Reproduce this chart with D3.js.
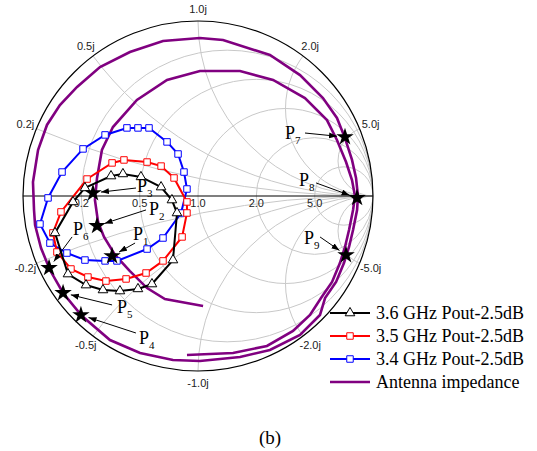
<!DOCTYPE html>
<html><head><meta charset="utf-8">
<script src="https://cdn.jsdelivr.net/npm/d3@7"></script>
<style>body{margin:0;background:#fff}</style>
</head><body><svg id="c" width="537" height="451"></svg>
<script>
// ---------- data (reflection coefficient Γ = [re, im]) ----------
const resistanceTicks = [0.2, 0.5, 1.0, 2.0, 5.0];
const reactanceTicks = [0.2, 0.5, 1.0, 2.0, 5.0, -0.2, -0.5, -1.0, -2.0, -5.0];
const seriesNames = ["3.6 GHz Pout-2.5dB", "3.5 GHz Pout-2.5dB", "3.4 GHz Pout-2.5dB", "Antenna impedance"];

const gamma36 = [[-0.646,0.046],[-0.497,0.114],[-0.429,0.126],[-0.326,0.109],[-0.211,0.051],[-0.149,-0.023],[-0.120,-0.097],[-0.143,-0.366],[-0.263,-0.503],[-0.343,-0.531],[-0.446,-0.543],[-0.543,-0.537],[-0.640,-0.509],[-0.743,-0.446],[-0.817,-0.211],[-0.714,-0.034]];
const gamma35 = [[-0.634,0.097],[-0.491,0.189],[-0.423,0.206],[-0.291,0.194],[-0.211,0.171],[-0.137,0.103],[-0.063,-0.034],[-0.063,-0.097],[-0.091,-0.234],[-0.200,-0.371],[-0.297,-0.440],[-0.411,-0.474],[-0.526,-0.486],[-0.629,-0.463],[-0.726,-0.417],[-0.806,-0.320],[-0.829,-0.211],[-0.783,-0.091]];
const gamma34 = [[-0.903,-0.160],[-0.857,-0.011],[-0.777,0.137],[-0.657,0.269],[-0.531,0.349],[-0.406,0.389],[-0.343,0.389],[-0.280,0.389],[-0.177,0.309],[-0.114,0.240],[-0.080,0.137],[-0.063,0.040],[-0.097,-0.097],[-0.200,-0.240],[-0.291,-0.303],[-0.463,-0.371],[-0.531,-0.371],[-0.646,-0.366],[-0.749,-0.326],[-0.846,-0.269]];
const antennaInner = [[0.029,-0.629],[-0.189,-0.589],[-0.291,-0.526],[-0.389,-0.429],[-0.474,-0.337],[-0.537,-0.234],[-0.571,-0.149],[-0.589,-0.023],[-0.577,0.103],[-0.549,0.263],[-0.486,0.394],[-0.349,0.549],[-0.177,0.663],[0.011,0.714],[0.240,0.714],[0.429,0.663],[0.611,0.560],[0.737,0.434],[0.794,0.320],[0.846,0.194],[0.880,0.091],[0.897,0.000],[0.886,-0.080],[0.863,-0.194],[0.840,-0.291],[0.811,-0.383],[0.766,-0.491],[0.703,-0.583],[0.640,-0.680],[0.543,-0.771],[0.394,-0.857],[0.200,-0.897],[-0.063,-0.909]];
const antennaOuter = [[-0.937,-0.080],[-0.943,0.080],[-0.914,0.263],[-0.863,0.406],[-0.789,0.520],[-0.691,0.623],[-0.560,0.737],[-0.389,0.823],[-0.200,0.886],[0.011,0.903],[0.143,0.891],[0.411,0.806],[0.583,0.691],[0.714,0.560],[0.794,0.446],[0.840,0.331],[0.880,0.206],[0.903,0.103],[0.914,0.000],[0.909,-0.080],[0.886,-0.194],[0.863,-0.291],[0.834,-0.383],[0.789,-0.491],[0.726,-0.583],[0.697,-0.680],[0.583,-0.794],[0.411,-0.880],[0.240,-0.920],[0.011,-0.943],[-0.143,-0.937],[-0.331,-0.897],[-0.503,-0.823],[-0.663,-0.686],[-0.771,-0.554],[-0.846,-0.423],[-0.897,-0.297],[-0.931,-0.166],[-0.937,-0.080]];
const pointNames = ["1","2","3","4","5","6","7","8","9"];
const pointGamma = [[-0.491,-0.343],[-0.577,-0.171],[-0.600,0.017],[-0.669,-0.680],[-0.771,-0.554],[-0.851,-0.411],[0.840,0.337],[0.909,-0.011],[0.846,-0.337]];

// ---------- layout ----------
const cx = 198, cy = 196, R = 175;
// label offset from star, arrow start offset from label
const labelOffset = [[27,-22],[58,-17],[50,-7],[64,23],[60,14],[30,-39],[-54,-4],[-52,-18],[-36,-17]];
const arrowStart = [[-4,9],[-9,1],[-7,2],[-9,-5],[-11,-2],[-7,8],[14,0],[11,3],[10,-1]];

const svg = d3.select("#c");
const x = d3.scaleLinear().domain([-1,1]).range([cx-R, cx+R]);
const y = d3.scaleLinear().domain([-1,1]).range([cy+R, cy-R]);
const px = v => x(v) - x(0);

const defs = svg.append("defs");
defs.append("clipPath").attr("id","uc").append("circle")
  .attr("cx", x(0)).attr("cy", y(0)).attr("r", px(1));
defs.append("marker").attr("id","ah").attr("markerUnits","userSpaceOnUse")
  .attr("markerWidth",10).attr("markerHeight",8).attr("refX",8).attr("refY",3)
  .attr("orient","auto").append("path").attr("d","M0,0L8,3L0,6Z").attr("fill","#000");

// grid
const grid = svg.append("g").attr("clip-path","url(#uc)").attr("fill","none")
  .attr("stroke","#c8c8c8").attr("stroke-width",1);
resistanceTicks.forEach(r => grid.append("circle")
  .attr("cx", x(r/(1+r))).attr("cy", y(0)).attr("r", px(1/(1+r))));
reactanceTicks.forEach(v => grid.append("circle")
  .attr("cx", x(1)).attr("cy", y(1/v)).attr("r", Math.abs(px(1/v))));

svg.append("circle").attr("cx", x(0)).attr("cy", y(0)).attr("r", px(1))
  .attr("fill","none").attr("stroke","#000").attr("stroke-width",1.2);
svg.append("line").attr("x1", x(-1)).attr("x2", x(1)).attr("y1", y(0)).attr("y2", y(0))
  .attr("stroke","#000").attr("stroke-width",1.2);

const tickFont = "'Liberation Sans', Arial, sans-serif";
svg.append("g").selectAll("text").data(resistanceTicks).join("text")
  .attr("x", r => x((r-1)/(r+1))).attr("y", y(0) + 11)
  .attr("text-anchor","middle").attr("font-family", tickFont).attr("font-size", 11)
  .attr("fill","#222").text(r => r.toFixed(1));
const f = (R + 12) / R;
svg.append("g").selectAll("text").data(reactanceTicks).join("text")
  .attr("x", v => x(f*(v*v-1)/(v*v+1)))
  .attr("y", v => y(f*2*v/(v*v+1)))
  .attr("dy","0.35em")
  .attr("text-anchor","middle").attr("font-family", tickFont).attr("font-size", 11)
  .attr("fill","#222").text(v => v.toFixed(1) + "j");

// curves
const line = d3.line().x(d => x(d[0])).y(d => y(d[1]));
const closed = d3.line().x(d => x(d[0])).y(d => y(d[1])).curve(d3.curveLinearClosed);
[antennaInner, antennaOuter].forEach(a => svg.append("path").attr("d", line(a))
  .attr("fill","none").attr("stroke","#800080").attr("stroke-width",2.6));

const series = [
  {data: gamma34, color:"#0000ff", sym: d3.symbolSquare, size: 42},
  {data: gamma35, color:"#ff0000", sym: d3.symbolSquare, size: 42},
  {data: gamma36, color:"#000000", sym: d3.symbolTriangle, size: 40}
];
series.forEach(s => {
  svg.append("path").attr("d", closed(s.data)).attr("fill","none")
    .attr("stroke", s.color).attr("stroke-width",2);
  svg.append("g").selectAll("path").data(s.data).join("path")
    .attr("transform", d => `translate(${x(d[0])},${y(d[1])})`)
    .attr("d", d3.symbol(s.sym, s.size)).attr("fill","#fff")
    .attr("stroke", s.color).attr("stroke-width",1);
});

// stars + annotations
const star = d3.symbol(d3.symbolStar, 95);
pointGamma.forEach((g, i) => {
  const sx = x(g[0]), sy = y(g[1]);
  svg.append("path").attr("transform", `translate(${sx},${sy})`).attr("d", star).attr("fill","#000");
  const lx = sx + labelOffset[i][0], ly = sy + labelOffset[i][1];
  const ax = lx + arrowStart[i][0], ay = ly + arrowStart[i][1];
  const dx = ax - sx, dy = ay - sy, dl = Math.hypot(dx, dy);
  svg.append("line").attr("x1", ax).attr("y1", ay)
    .attr("x2", sx + dx/dl*8).attr("y2", sy + dy/dl*8)
    .attr("stroke","#000").attr("stroke-width",1).attr("marker-end","url(#ah)");
  const t = svg.append("text").attr("x", lx - 6).attr("y", ly + 6)
    .attr("font-family","'Liberation Serif','Times New Roman',serif").attr("font-size",18).attr("fill","#000");
  t.append("tspan").text("P");
  t.append("tspan").attr("font-size",11).attr("dy",5).text(pointNames[i]);
});

// legend
const legY = [313, 336, 359, 382];
const legStyle = [
  {color:"#000", sym:d3.symbolTriangle, size:40},
  {color:"#ff0000", sym:d3.symbolSquare, size:42},
  {color:"#0000ff", sym:d3.symbolSquare, size:42},
  {color:"#800080", sym:null}
];
const leg = svg.append("g");
seriesNames.forEach((name, i) => {
  const ly = legY[i], st = legStyle[i];
  leg.append("line").attr("x1",330).attr("x2",370).attr("y1",ly).attr("y2",ly)
    .attr("stroke", st.color).attr("stroke-width", st.sym ? 2 : 2.6);
  if (st.sym) leg.append("path").attr("transform",`translate(350,${ly})`)
    .attr("d", d3.symbol(st.sym, st.size)).attr("fill","#fff").attr("stroke", st.color);
  leg.append("text").attr("x",376).attr("y", ly + 6)
    .attr("font-family","'Liberation Serif','Times New Roman',serif").attr("font-size",18)
    .attr("fill","#000").text(name);
});

svg.append("text").attr("x",270).attr("y",444).attr("text-anchor","middle")
  .attr("font-family","'Liberation Serif','Times New Roman',serif").attr("font-size",19)
  .text("(b)");
</script></body></html>
